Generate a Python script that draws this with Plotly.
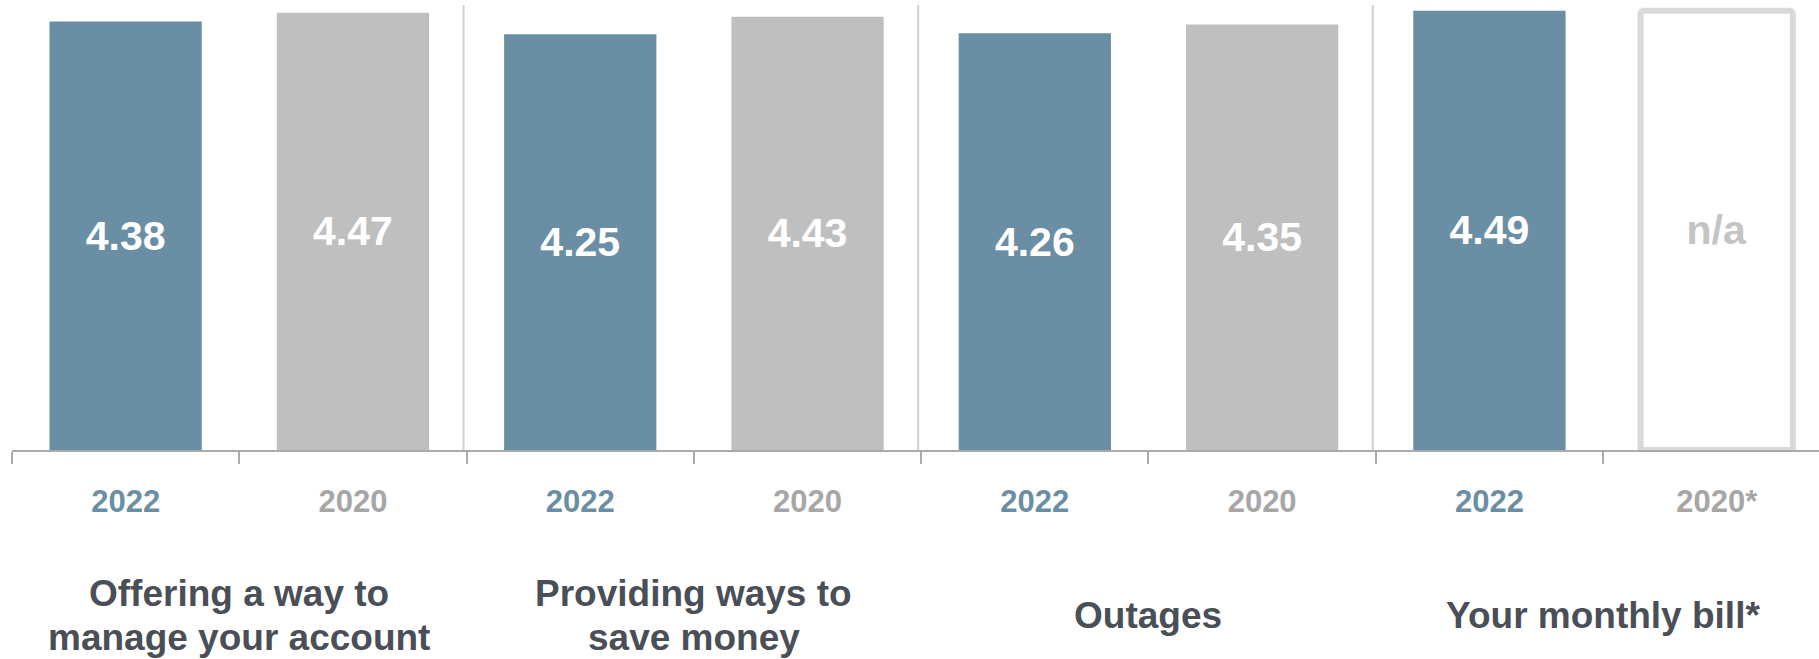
import plotly.graph_objects as go

# ---- data ----
groups = [
    ["Offering a way to", "manage your account"],
    ["Providing ways to", "save money"],
    ["Outages"],
    ["Your monthly bill*"],
]
slots = ["s0", "s1", "s2", "s3", "s4", "s5", "s6", "s7"]
year_labels = ["2022", "2020", "2022", "2020", "2022", "2020", "2022", "2020*"]
slots_2022 = ["s0", "s2", "s4", "s6"]
values_2022 = [4.38, 4.25, 4.26, 4.49]
slots_2020 = ["s1", "s3", "s5"]
values_2020 = [4.47, 4.43, 4.35]
slots_na = ["s7"]
na_placeholder = [4.49]
na_text = ["n/a"]

BLUE = "#6a8fa4"
GRAY = "#bfbfbf"
YEAR_GRAY = "#a6a6a6"
DARK = "#4a4f57"
FONT = "Liberation Sans, Arial, sans-serif"
VAL_SIZE = 41

fig = go.Figure()
fig.add_trace(go.Bar(
    x=slots_2022, y=values_2022, width=0.67,
    marker=dict(color=BLUE, line=dict(width=0)),
    text=[f"{v:.2f}" for v in values_2022], textposition="inside",
    insidetextanchor="middle", textangle=0,
    textfont=dict(family=FONT, size=VAL_SIZE, color="white", weight="bold"),
    hoverinfo="skip", showlegend=False,
))
fig.add_trace(go.Bar(
    x=slots_2020, y=values_2020, width=0.67,
    marker=dict(color=GRAY, line=dict(width=0)),
    text=[f"{v:.2f}" for v in values_2020], textposition="inside",
    insidetextanchor="middle", textangle=0,
    textfont=dict(family=FONT, size=VAL_SIZE, color="white", weight="bold"),
    hoverinfo="skip", showlegend=False,
))
fig.add_trace(go.Bar(
    x=slots_na, y=na_placeholder, width=0.67,
    marker=dict(color="white", line=dict(width=6, color="#d9d9d9"), cornerradius=3),
    text=na_text, textposition="inside",
    insidetextanchor="middle", textangle=0,
    textfont=dict(family=FONT, size=VAL_SIZE, color="#c4c4c4", weight="bold"),
    hoverinfo="skip", showlegend=False,
))

ticktext = []
for lab in year_labels:
    col = BLUE if lab.startswith("2022") else YEAR_GRAY
    ticktext.append(f"<span style='color:{col}'>{lab}</span>")

fig.update_layout(
    width=1819, height=659,
    margin=dict(l=12, r=0, t=0, b=209),
    plot_bgcolor="white", paper_bgcolor="white",
    barmode="overlay",
    font=dict(family=FONT),
    xaxis=dict(
        type="category", categoryorder="array", categoryarray=slots,
        range=[-0.5, 7.45],
        tickvals=slots, ticktext=ticktext,
        tickson="boundaries", ticks="outside", ticklen=12, tickwidth=2,
        tickcolor="#aaaaaa",
        showline=True, linecolor="#aaaaaa", linewidth=2,
        showgrid=False, zeroline=False,
        tickfont=dict(family=FONT, size=31, weight="bold"),
        ticklabelstandoff=23,
        automargin=False,
        fixedrange=True,
    ),
    yaxis=dict(
        range=[0, 4.6], visible=False, showgrid=False, zeroline=False,
        fixedrange=True,
    ),
)

# group separators
for i in range(1, len(groups)):
    fig.add_shape(
        type="line", xref="x", yref="paper",
        xsizemode="pixel", xanchor=2 * i - 0.5, x0=-3, x1=-3,
        y0=0, y1=0.989,
        line=dict(color="#d0d0d0", width=2), layer="below",
    )

# group labels
line_gap = 44
center_px = 615
for gi, lines in enumerate(groups):
    n = len(lines)
    for li, txt in enumerate(lines):
        offset = (li - (n - 1) / 2) * line_gap
        fig.add_annotation(
            x=2 * gi + 0.5, xref="x", y=0, yref="paper",
            yshift=-(center_px - 450 + offset), yanchor="middle",
            text=txt, showarrow=False,
            font=dict(family=FONT, size=37, color=DARK, weight="bold"),
        )

fig.write_html(
    "out.html",
    config={"displayModeBar": False, "staticPlot": True},
    post_script="document.body.style.margin='0';document.body.style.overflow='hidden';",
)
